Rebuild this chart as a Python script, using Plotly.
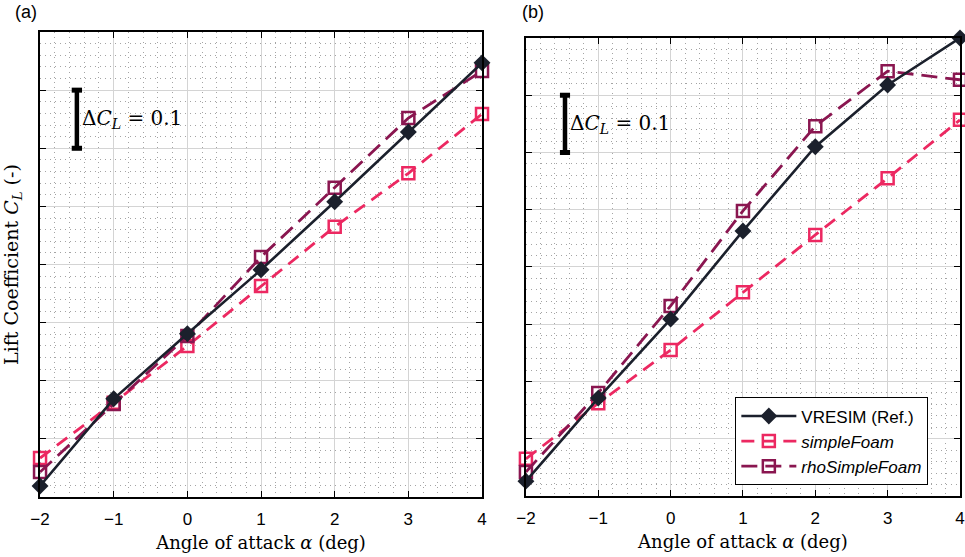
import plotly.graph_objects as go

# Angle of attack (deg)
alpha = [-2, -1, 0, 1, 2, 3, 4]

# Panel (a): lift coefficient
cl_a_vresim = [0.019, 0.169, 0.281, 0.391, 0.508, 0.628, 0.747]
cl_a_simple = [0.067, 0.162, 0.260, 0.363, 0.465, 0.557, 0.659]
cl_a_rho = [0.043, 0.160, 0.277, 0.413, 0.532, 0.652, 0.733]

# Panel (b): lift coefficient
cl_b_vresim = [0.026, 0.171, 0.309, 0.463, 0.610, 0.718, 0.800]
cl_b_simple = [0.065, 0.162, 0.255, 0.356, 0.456, 0.555, 0.657]
cl_b_rho = [0.042, 0.180, 0.332, 0.498, 0.646, 0.742, 0.727]

x_ticks = [-2, -1, 0, 1, 2, 3, 4]
x_tick_text = ["\u22122", "\u22121", "0", "1", "2", "3", "4"]

# Scale bar: Delta C_L = 0.1
bar_low, bar_high = 0.6, 0.7
bar_x_a, bar_x_b = -1.50, -1.46

C_REF = "#1b202c"
C_SIMPLE = "#ec2861"
C_RHO = "#8a1650"

SERIF = "DejaVu Serif, serif"
SANS = "Liberation Sans, Arial, sans-serif"

fig = go.Figure()

panels = [
    ("x", "y", cl_a_vresim, cl_a_simple, cl_a_rho, True),
    ("x2", "y2", cl_b_vresim, cl_b_simple, cl_b_rho, False),
]
for xa, ya, ref, simple, rho, first in panels:
    fig.add_trace(go.Scatter(
        x=alpha, y=simple, xaxis=xa, yaxis=ya, mode="lines+markers",
        name="<i>simpleFoam</i>", showlegend=not first,
        line=dict(color=C_SIMPLE, width=2.8, dash="13px,8px"),
        marker=dict(symbol="square-open", size=12, color=C_SIMPLE,
                    line=dict(width=2.5, color=C_SIMPLE)),
        cliponaxis=False, legendrank=2,
    ))
    fig.add_trace(go.Scatter(
        x=alpha, y=rho, xaxis=xa, yaxis=ya, mode="lines+markers",
        name="<i>rhoSimpleFoam</i>", showlegend=not first,
        line=dict(color=C_RHO, width=2.8, dash="16px,8px"),
        marker=dict(symbol="square-open", size=12, color=C_RHO,
                    line=dict(width=2.5, color=C_RHO)),
        cliponaxis=False, legendrank=3,
    ))
    fig.add_trace(go.Scatter(
        x=alpha, y=ref, xaxis=xa, yaxis=ya, mode="lines+markers",
        name="VRESIM (Ref.)", showlegend=not first,
        line=dict(color=C_REF, width=2.6),
        marker=dict(symbol="diamond", size=13, color=C_REF),
        cliponaxis=False, legendrank=1,
    ))

# Scale bars with end caps
for xref, yref, bx in [("x", "y", bar_x_a), ("x2", "y2", bar_x_b)]:
    fig.add_shape(type="line", xref=xref, yref=yref, x0=bx, x1=bx,
                  y0=bar_low, y1=bar_high, line=dict(color="black", width=4.5))
    for yy in (bar_low, bar_high):
        fig.add_shape(type="line", xref=xref, yref=yref, x0=bx - 0.07, x1=bx + 0.07,
                      y0=yy, y1=yy, line=dict(color="black", width=5))
    fig.add_annotation(xref=xref, yref=yref, x=bx + 0.04, y=(bar_low + bar_high) / 2,
                       text="\u0394<i>C</i><sub><i>L</i></sub> = 0.1", showarrow=False,
                       xanchor="left", yanchor="middle",
                       font=dict(family=SERIF, size=20, color="black"))

axis_common = dict(
    showline=True, linecolor="black", linewidth=1.6, mirror="ticks",
    ticks="inside", ticklen=6, tickwidth=1.4, tickcolor="black",
    showgrid=True, gridcolor="#d4d4d4", gridwidth=1.2, zeroline=False,
    automargin=False,
)
minor_grid = dict(showgrid=True, griddash="1px,4px", gridcolor="#a4a4a4", gridwidth=1)
x_common = dict(axis_common, range=[-2, 4], tickvals=x_ticks, ticktext=x_tick_text,
                tickfont=dict(family=SANS, size=17, color="black"),
                ticklabelstandoff=6,
                minor=dict(minor_grid, dtick=0.2),
                title=dict(text="Angle of attack <i>\u03b1</i> (deg)", standoff=8,
                           font=dict(family=SERIF, size=18, color="black")))
y_common = dict(axis_common, range=[0, 0.8], dtick=0.1, showticklabels=False,
                minor=dict(minor_grid, dtick=0.02))

fig.update_layout(
    width=965, height=557,
    margin=dict(l=0, r=0, t=0, b=0, autoexpand=False),
    paper_bgcolor="white", plot_bgcolor="white",
    xaxis=dict(x_common, domain=[0.0415, 0.4995], anchor="y"),
    yaxis=dict(y_common, domain=[0.1077, 0.9425], anchor="x",
               title=dict(text="Lift Coefficient <i>C</i><sub><i>L</i></sub> (-)", standoff=16,
                          font=dict(family=SERIF, size=19, color="black"))),
    xaxis2=dict(x_common, domain=[0.545, 0.9948], anchor="y2"),
    yaxis2=dict(y_common, domain=[0.1095, 0.9318], anchor="x2"),
    legend=dict(x=0.7617, y=0.287, xanchor="left", yanchor="top",
                bgcolor="white", bordercolor="black", borderwidth=1.3,
                font=dict(family=SANS, size=17, color="black"),
                itemwidth=55, tracegroupgap=0),
    showlegend=True,
)

fig.add_annotation(xref="paper", yref="paper", x=0.013, y=1.0, xanchor="left", yanchor="top",
                   text="(a)", showarrow=False, font=dict(family=SANS, size=18, color="black"))
fig.add_annotation(xref="paper", yref="paper", x=0.539, y=1.0, xanchor="left", yanchor="top",
                   text="(b)", showarrow=False, font=dict(family=SANS, size=18, color="black"))

fig.write_html("out.html")
